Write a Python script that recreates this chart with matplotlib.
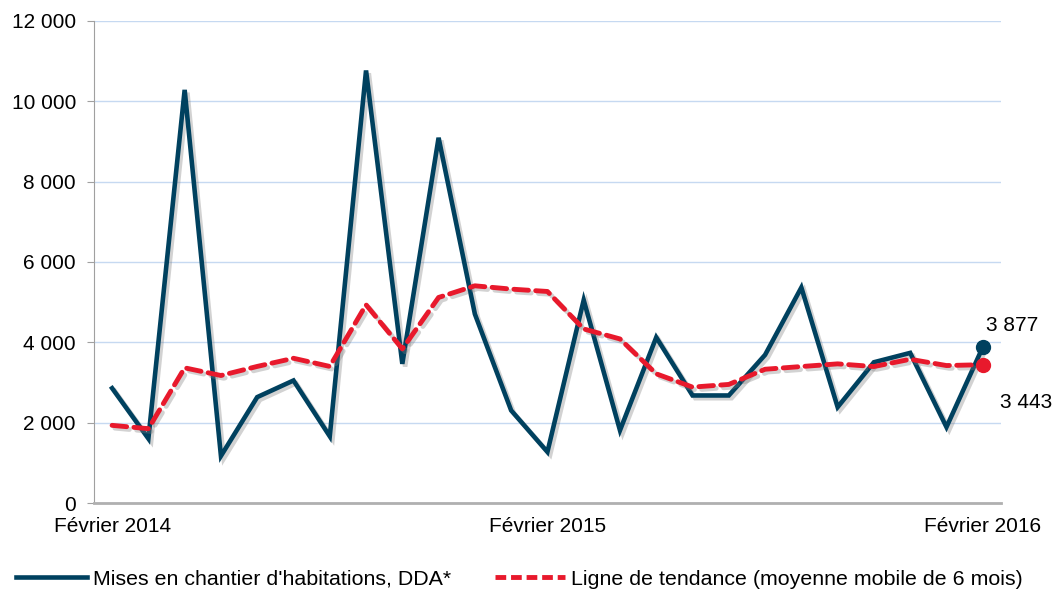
import numpy as np
import matplotlib.pyplot as plt
import matplotlib.patheffects as pe
from matplotlib.ticker import FuncFormatter
from matplotlib.lines import Line2D

plt.rcParams['font.family'] = ['Liberation Sans', 'DejaVu Sans']

# monthly data, Feb 2014 -> Feb 2016
months = np.arange(25)
tick_pos = [0, 12, 24]
tick_labels = ["Février 2014", "Février 2015", "Février 2016"]
mises = [2858, 1603, 10285, 1171, 2636, 3050, 1660, 10768, 3464, 9093,
         4705, 2305, 1271, 5052, 1809, 4124, 2677, 2677, 3688, 5365,
         2387, 3504, 3737, 1890, 3877]
tendance = [1933, 1850, 3365, 3174, 3400, 3603, 3400, 4935, 3836, 5117,
            5407, 5325, 5266, 4333, 4084, 3216, 2885, 2952, 3330, 3397,
            3464, 3397, 3578, 3422, 3443]

dark = "#00415f"
red = "#e8192c"
fs = 15

fig = plt.figure(figsize=(10.57, 5.91), dpi=100)
ax = fig.add_axes([0.0889, 0.1489, 0.858, 0.8156])

shadow = [pe.SimpleLineShadow(offset=(2, -2), shadow_color="gray", alpha=0.35), pe.Normal()]

ax.plot(months, mises, color=dark, lw=3.3, solid_joinstyle="miter",
        path_effects=shadow, zorder=3)
ax.plot(months, tendance, color=red, lw=3.5, dashes=(3.0, 1.5),
        dash_capstyle="round", path_effects=shadow, zorder=4)
ax.plot(months[-1], mises[-1], "o", color=dark, ms=10, zorder=5)
ax.plot(months[-1], tendance[-1], "o", color=red, ms=10, zorder=6)

ax.annotate("3 877", (months[-1], mises[-1]), xytext=(21, 16),
            textcoords="offset points", fontsize=fs, ha="center", va="center")
ax.annotate("3 443", (months[-1], tendance[-1]), xytext=(31, -27),
            textcoords="offset points", fontsize=fs, ha="center", va="center")

ax.set_xlim(-0.5, 24.5)
ax.set_ylim(0, 12000)
ax.set_yticks(np.arange(0, 12001, 2000))
ax.yaxis.set_major_formatter(FuncFormatter(lambda v, p: f"{int(v):,}".replace(",", " ")))
ax.set_xticks(tick_pos)
ax.set_xticklabels(tick_labels)
ax.tick_params(axis="x", length=0, labelsize=fs, pad=10)
ax.tick_params(axis="y", length=5, color="#a0a0a0", labelsize=fs, pad=8)

ax.grid(axis="y", color="#c6d9f1", lw=1)
ax.set_axisbelow(True)
for s in ["top", "right"]:
    ax.spines[s].set_visible(False)
ax.spines["left"].set_color("#a0a0a0")
ax.spines["bottom"].set_color("#b0b0b0")
ax.spines["bottom"].set_linewidth(2)

handles = [Line2D([], [], color=dark, lw=3.3),
           Line2D([], [], color=red, lw=3.5, dashes=(2.2, 1.0))]
fig.legend(handles, ["Mises en chantier d'habitations, DDA*",
                     "Ligne de tendance (moyenne mobile de 6 mois)"],
           loc="lower left", bbox_to_anchor=(-0.003, -0.029), ncol=2, frameon=False,
           fontsize=15.4, handlelength=3.3, handletextpad=0.28, columnspacing=2.05)

fig.savefig("out.png", dpi=100)
